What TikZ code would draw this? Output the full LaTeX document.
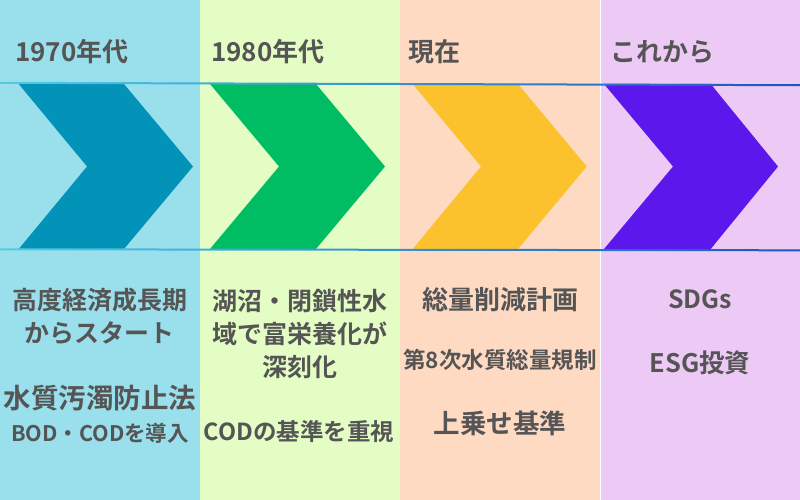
\documentclass[tikz,border=0pt]{standalone}
\usepackage{fontspec}
\setmainfont{Noto Sans CJK JP}[BoldFont={Noto Sans CJK JP Bold}]
\usepackage{tikz}
\usetikzlibrary{positioning}
\definecolor{bgA}{HTML}{9AE0EC}
\definecolor{bgB}{HTML}{E4FDC4}
\definecolor{bgC}{HTML}{FFDAC3}
\definecolor{bgD}{HTML}{EDCAF5}
\definecolor{chA}{HTML}{0393B9}
\definecolor{chB}{HTML}{00BD63}
\definecolor{chC}{HTML}{FCC22E}
\definecolor{chD}{HTML}{5C17EC}
\definecolor{lineL}{HTML}{52CCE2}
\definecolor{lineR}{HTML}{1A56C0}
\definecolor{txt}{HTML}{555555}
\begin{document}
\begin{tikzpicture}[x=1pt,y=-1pt,
	head/.style={anchor=base west,inner sep=0pt,text=txt,font=\fontsize{26}{30}\selectfont\bfseries},
	body/.style={inner sep=0pt,text=txt,align=center,font=\fontsize{25}{33}\selectfont\bfseries}]
			\useasboundingbox (0,0) rectangle (800,500);
			\fill[bgA] (0,0) rectangle (200,500);
			\fill[bgB] (200,0) rectangle (400,500);
			\fill[bgC] (400,0) rectangle (600,500);
			\fill[bgD] (600,0) rectangle (800,500);
			\draw[white,line width=1pt] (600,0) -- (600,500);
			\fill[chA] (18.7,84) -- (124,84) -- (193,166.5) -- (124,249) -- (18.7,249) -- (87,166.5) -- cycle;
			\fill[chB] (210,84) -- (316,84) -- (385,166.5) -- (316,249) -- (210,249) -- (279,166.5) -- cycle;
			\fill[chC] (412.7,84) -- (518,84) -- (586.7,166.5) -- (518,249) -- (412.7,249) -- (481,166.5) -- cycle;
			\fill[chD] (604,84) -- (710.7,84) -- (778,166.5) -- (710.7,249) -- (604,249) -- (673,166.5) -- cycle;
			\shade[left color=lineL,right color=lineR] (0,81.8) -- (800,84.2) -- (800,86.2) -- (0,83.8) -- cycle;
			\shade[left color=lineL,right color=lineR] (0,248.3) -- (800,249.3) -- (800,251.3) -- (0,250.3) -- cycle;
			\node[head] at (15,61.5) (T1) {1970年代};
			\node[head] at (211,61.5) (T2) {1980年代};
			\node[head] at (408,61.5) (T3) {現在};
			\node[head] at (610,61.5) (T4) {これから};
			\node[body] at (100,316.5) (A1) {高度経済成長期\\からスタート};
			\node[body,font=\fontsize{27.5}{30}\selectfont\bfseries] at (100,398) (B1) {水質汚濁防止法};
			\node[body,font=\fontsize{21.5}{24}\selectfont\bfseries] at (100,433) (C1) {BOD・CODを導入};
			\node[body] at (300,334) (A2) {湖沼・閉鎖性水\\域で富栄養化が\\深刻化};
			\node[body,font=\fontsize{23.5}{26}\selectfont\bfseries] at (299,432) (B2) {CODの基準を重視};
			\node[body,font=\fontsize{26}{30}\selectfont\bfseries] at (500,300) (A3) {総量削減計画};
			\node[body,font=\fontsize{22.5}{26}\selectfont\bfseries] at (500,360) (B3) {第8次水質総量規制};
			\node[body,font=\fontsize{26.5}{30}\selectfont\bfseries] at (500,423) (C3) {上乗せ基準};
			\node[body] at (700,299) (A4) {SDGs};
			\node[body,font=\fontsize{25.5}{30}\selectfont\bfseries] at (700,363) (B4) {ESG投資};
\end{tikzpicture}
\end{document}
